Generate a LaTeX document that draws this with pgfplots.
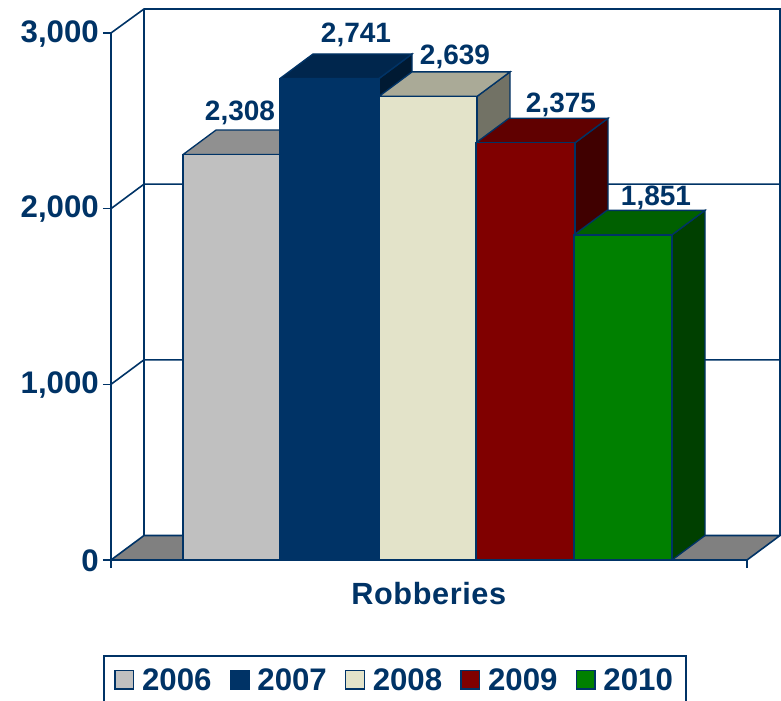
\documentclass[border=0pt]{standalone}
\usepackage{fontspec}
\setmainfont{Liberation Sans}
\usepackage{pgfplots}
\pgfplotsset{compat=1.18}

\definecolor{navy}{HTML}{003366}
\definecolor{floorgrey}{HTML}{808080}

\definecolor{f06}{HTML}{C0C0C0}
\definecolor{t06}{HTML}{909090}
\definecolor{f07}{HTML}{003366}
\definecolor{t07}{HTML}{00264D}
\definecolor{s07}{HTML}{001A33}
\definecolor{f08}{HTML}{E3E3C9}
\definecolor{t08}{HTML}{AAAA97}
\definecolor{s08}{HTML}{727265}
\definecolor{f09}{HTML}{800000}
\definecolor{t09}{HTML}{600000}
\definecolor{s09}{HTML}{400000}
\definecolor{f10}{HTML}{008000}
\definecolor{t10}{HTML}{006000}
\definecolor{s10}{HTML}{004000}

\begin{document}
\begin{tikzpicture}[x=1pt,y=1pt]
% page is 781x700 px at 0.75pt per px, axis box starts at px (111,560)
\useasboundingbox (-83.25pt,-105pt) rectangle (502.5pt,420pt);
\begin{axis}[
    at={(0pt,0pt)},
    anchor=south west,
    scale only axis,
    width=501.75pt,
    height=413.25pt,
    xmin=111, xmax=780,
    ymin=0, ymax=3136.6,
    clip=false,
    axis line style={draw=none},
    tick pos=left,
    tick align=outside,
    major tick length=6pt,
    tick style={navy, line width=1.2pt},
    xtick={111,747},
    xticklabels={},
    ytick={0,1000,2000,3000},
    /pgf/number format/.cd, 1000 sep={,}, assume math mode=true,
    /pgfplots/.cd,
    yticklabel style={font=\fontsize{23.4}{26}\selectfont\bfseries, text=navy, inner sep=0pt, xshift=-3pt, yshift=-0.6pt},
    xlabel={Robberies},
    xlabel style={at={(axis description cs:0.475,0)}, anchor=center, yshift=-25pt,
        font=\fontsize{23}{26}\selectfont\bfseries\addfontfeatures{LetterSpace=2}, text=navy},
    legend columns=5,
    legend cell align=left,
    legend style={
        at={(axis description cs:-0.012,-0.1724)},
        anchor=north west,
        draw=navy,
        line width=1.2pt,
        font=\fontsize{23.4}{26}\selectfont\bfseries,
        text=navy,
        inner xsep=8pt,
        inner ysep=8pt,
        /tikz/every even column/.append style={column sep=11.7pt},
    },
    legend image code/.code={
        \draw[#1, line width=1pt] (0pt,-6pt) rectangle (14pt,8pt);
        \path (0pt,0pt) (17.75pt,0pt);
    },
]
% walls and grid lines
\addplot[navy, line width=1.2pt, forget plot] coordinates {(111,3000) (111,0)};
\addplot[navy, line width=1.2pt, forget plot] coordinates {(111,3000) (144,3136.6) (780,3136.6) (780,139.5)};
\addplot[navy, line width=1.2pt, forget plot] coordinates {(144,3136.6) (144,139.5)};
\addplot[navy, line width=1.2pt, forget plot] coordinates {(111,1000) (144,1139.5) (780,1139.5)};
\addplot[navy, line width=1.2pt, forget plot] coordinates {(111,2000) (144,2139.5) (780,2139.5)};
% floor
\addplot[fill=floorgrey, draw=navy, line width=1.2pt, forget plot] coordinates {(111,0) (747,0) (780,139.5) (144,139.5) (111,0)};

% 2006
\addplot[fill=t06, draw=navy, line width=1pt, forget plot] coordinates {(183,2308) (281,2308) (314,2447.5) (216,2447.5) (183,2308)};
\addplot[fill=f06, draw=navy, line width=1pt] coordinates {(183,0) (281,0) (281,2308) (183,2308) (183,0)};
% 2007
\addplot[fill=s07, draw=navy, line width=1pt, forget plot] coordinates {(379,0) (412,139.5) (412,2880.5) (379,2741) (379,0)};
\addplot[fill=t07, draw=navy, line width=1pt, forget plot] coordinates {(280,2741) (379,2741) (412,2880.5) (313,2880.5) (280,2741)};
\addplot[fill=f07, draw=navy, line width=1pt] coordinates {(280,0) (379,0) (379,2741) (280,2741) (280,0)};
% 2008
\addplot[fill=s08, draw=navy, line width=1pt, forget plot] coordinates {(477,0) (510,139.5) (510,2778.5) (477,2639) (477,0)};
\addplot[fill=t08, draw=navy, line width=1pt, forget plot] coordinates {(379,2639) (477,2639) (510,2778.5) (412,2778.5) (379,2639)};
\addplot[fill=f08, draw=navy, line width=1pt] coordinates {(379,0) (477,0) (477,2639) (379,2639) (379,0)};
% 2009
\addplot[fill=s09, draw=navy, line width=1pt, forget plot] coordinates {(575,0) (608,139.5) (608,2514.5) (575,2375) (575,0)};
\addplot[fill=t09, draw=navy, line width=1pt, forget plot] coordinates {(476,2375) (575,2375) (608,2514.5) (509,2514.5) (476,2375)};
\addplot[fill=f09, draw=navy, line width=1pt] coordinates {(476,0) (575,0) (575,2375) (476,2375) (476,0)};
% 2010
\addplot[fill=s10, draw=navy, line width=1pt, forget plot] coordinates {(672,0) (705,139.5) (705,1990.5) (672,1851) (672,0)};
\addplot[fill=t10, draw=navy, line width=1pt, forget plot] coordinates {(574,1851) (672,1851) (705,1990.5) (607,1990.5) (574,1851)};
\addplot[fill=f10, draw=navy, line width=1pt] coordinates {(574,0) (672,0) (672,1851) (574,1851) (574,0)};

\legend{2006,2007,2008,2009,2010}

% value labels
\begin{scope}[every node/.style={font=\fontsize{21}{24}\selectfont\bfseries, text=navy, inner sep=0pt}]
\node at (axis cs:240,2545) {2,308};
\node at (axis cs:356,2989) {2,741};
\node at (axis cs:455,2864) {2,639};
\node at (axis cs:561,2591) {2,375};
\node at (axis cs:656,2061) {1,851};
\end{scope}
\end{axis}
\end{tikzpicture}
\end{document}
